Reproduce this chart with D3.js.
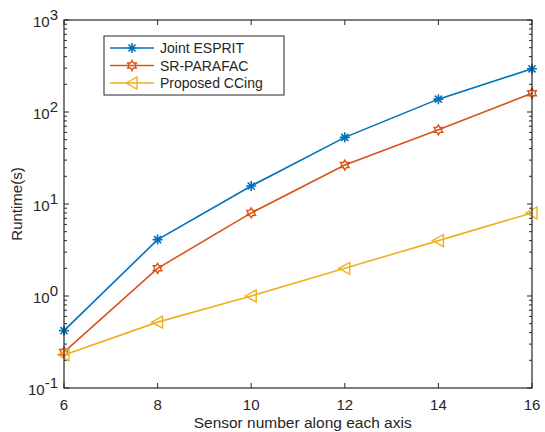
<!DOCTYPE html>
<html>
<head>
<meta charset="utf-8">
<script src="https://cdn.jsdelivr.net/npm/d3@7"></script>
<style>
  body { margin: 0; background: #fff; }
  text { font-family: "Liberation Sans", Arial, sans-serif; fill: #262626; }
</style>
</head>
<body>
<div id="chart"></div>
<script>
let sensors = [6, 8, 10, 12, 14, 16];
let jointEsprit = [0.42, 4.1, 15.7, 53, 138, 295];
let srParafac = [0.246, 2.0, 8.0, 26.5, 64, 160];
let proposed = [0.229, 0.52, 1.0, 2.0, 4.0, 8.0];
let xTicks = [6, 8, 10, 12, 14, 16];
let yTicks = [-1, 0, 1, 2, 3];

let series = [
  {name: "Joint ESPRIT", values: jointEsprit, color: "#0072BD", marker: "asterisk"},
  {name: "SR-PARAFAC", values: srParafac, color: "#D95319", marker: "hexagram"},
  {name: "Proposed CCing", values: proposed, color: "#EDB120", marker: "triangle"}
];

let margin = {top: 20, right: 13, bottom: 44, left: 64},
    width = 545 - margin.left - margin.right,
    height = 432 - margin.top - margin.bottom;

let svg = d3.select("#chart").append("svg")
    .attr("width", 545)
    .attr("height", 432);

let g = svg.append("g")
    .attr("transform", "translate(" + margin.left + "," + margin.top + ")");

let x = d3.scaleLinear().domain([6, 16]).range([0, width]),
    y = d3.scaleLog().domain([0.1, 1000]).range([height, 0]);

let axisColor = "#262626";

// ===== ticks =====
let minor = [];
for (let e = -1; e < 3; e++) for (let k = 2; k <= 9; k++) minor.push(k * Math.pow(10, e));

let tickG = g.append("g").attr("stroke", axisColor).attr("stroke-width", 1);
minor.forEach(v => {
  tickG.append("line").attr("x1", 0).attr("x2", 3).attr("y1", y(v)).attr("y2", y(v));
  tickG.append("line").attr("x1", width).attr("x2", width - 3).attr("y1", y(v)).attr("y2", y(v));
});
yTicks.forEach(e => {
  let v = Math.pow(10, e);
  tickG.append("line").attr("x1", 0).attr("x2", 5).attr("y1", y(v)).attr("y2", y(v));
  tickG.append("line").attr("x1", width).attr("x2", width - 5).attr("y1", y(v)).attr("y2", y(v));
});
xTicks.forEach(v => {
  tickG.append("line").attr("x1", x(v)).attr("x2", x(v)).attr("y1", height).attr("y2", height - 5);
  tickG.append("line").attr("x1", x(v)).attr("x2", x(v)).attr("y1", 0).attr("y2", 5);
});

// y tick labels 10^e
yTicks.forEach(e => {
  let t = g.append("text")
    .attr("x", -6)
    .attr("y", y(Math.pow(10, e)) + 7)
    .attr("text-anchor", "end")
    .style("font-size", "15px");
  t.append("tspan").text("10");
  t.append("tspan").attr("dy", -7).text(e);
});

// x tick labels
xTicks.forEach(v => {
  g.append("text")
    .attr("x", x(v))
    .attr("y", height + 22)
    .attr("text-anchor", "middle")
    .style("font-size", "15px")
    .text(v);
});

// axis labels
g.append("text")
  .attr("x", x(11.1))
  .attr("y", height + 40)
  .attr("text-anchor", "middle")
  .style("font-size", "15.5px")
  .text("Sensor number along each axis");

g.append("text")
  .attr("transform", "translate(-42," + (height / 2) + ") rotate(-90)")
  .attr("text-anchor", "middle")
  .style("font-size", "15px")
  .text("Runtime(s)");

// ===== lines =====
let line = d3.line()
  .x((d, i) => x(sensors[i]))
  .y(d => y(d));

function drawMarker(sel, type, color) {
  if (type === "asterisk") {
    let r = 5;
    let p = "";
    [0, 45, 90, 135].forEach(a => {
      let rad = a * Math.PI / 180;
      p += "M" + (-r * Math.cos(rad)) + "," + (-r * Math.sin(rad)) + "L" + (r * Math.cos(rad)) + "," + (r * Math.sin(rad));
    });
    sel.append("path").attr("d", p).attr("stroke", color).attr("stroke-width", 1.6).attr("fill", "none");
  } else if (type === "hexagram") {
    let pts = [];
    for (let i = 0; i < 12; i++) {
      let r = i % 2 === 0 ? 5 : 2.9;
      let a = (i * 30 - 90) * Math.PI / 180;
      pts.push([r * Math.cos(a), r * Math.sin(a)]);
    }
    sel.append("path").attr("d", "M" + pts.join("L") + "Z")
      .attr("stroke", color).attr("stroke-width", 1.4).attr("fill", "none");
  } else {
    sel.append("path").attr("d", "M-6,0L5,-6L5,6Z")
      .attr("stroke", color).attr("stroke-width", 1.4).attr("fill", "none");
  }
}

series.forEach(s => {
  g.append("path")
    .datum(s.values)
    .attr("d", line)
    .attr("fill", "none")
    .attr("stroke", s.color)
    .attr("stroke-width", 1.6);
  s.values.forEach((v, i) => {
    let m = g.append("g").attr("transform", "translate(" + x(sensors[i]) + "," + y(v) + ")");
    drawMarker(m, s.marker, s.color);
  });
});

// box
g.append("rect")
  .attr("width", width).attr("height", height)
  .attr("fill", "none").attr("stroke", axisColor).attr("stroke-width", 1.2);

// ===== legend =====
let lg = g.append("g").attr("transform", "translate(" + 40 + "," + 16 + ")");
lg.append("rect")
  .attr("width", 180).attr("height", 59)
  .attr("fill", "#fff").attr("stroke", axisColor).attr("stroke-width", 1);
series.forEach((s, i) => {
  let yy = 12 + i * 17.5;
  lg.append("line").attr("x1", 6).attr("x2", 50).attr("y1", yy).attr("y2", yy)
    .attr("stroke", s.color).attr("stroke-width", 1.6);
  let m = lg.append("g").attr("transform", "translate(28," + yy + ")");
  drawMarker(m, s.marker, s.color);
  lg.append("text").attr("x", 56).attr("y", yy + 5)
    .style("font-size", "14px").text(s.name);
});
</script>
</body>
</html>
